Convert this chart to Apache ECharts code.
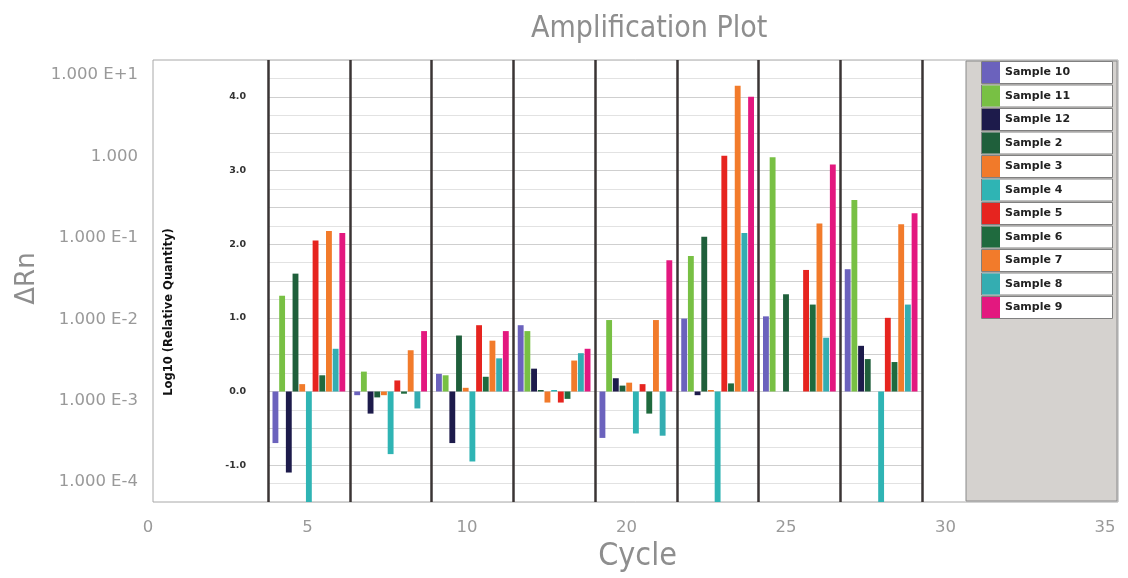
<!DOCTYPE html>
<html>
<head>
<meta charset="utf-8">
<script src="https://cdn.jsdelivr.net/npm/echarts@6/dist/echarts.min.js"></script>
<style>html,body{margin:0;padding:0;background:#fff;}#c{width:1128px;height:578px;}</style>
</head>
<body>
<div id="c"></div>
<script>
// Outer amplification-plot frame labels
const cycleLabels = ['0', '5', '10', '20', '25', '30', '35'];
const deltaRnLabels = ['1.000 E-4', '1.000 E-3', '1.000 E-2', '1.000 E-1', '1.000', '1.000 E+1'];

// Inset bar chart: 8 groups, 11 samples each (Log10 relative quantity)
const groups = ['1', '2', '3', '4', '5', '6', '7', '8'];
const sampleNames = ['Sample 10', 'Sample 11', 'Sample 12', 'Sample 2', 'Sample 3', 'Sample 4',
                     'Sample 5', 'Sample 6', 'Sample 7', 'Sample 8', 'Sample 9'];
const sample10 = [-0.70, -0.05, 0.24, 0.90, -0.63, 0.99, 1.02, 1.66];
const sample11 = [1.30, 0.27, 0.22, 0.82, 0.97, 1.84, 3.18, 2.60];
const sample12 = [-1.10, -0.30, -0.70, 0.31, 0.18, -0.05, 0.00, 0.62];
const sample2  = [1.60, -0.08, 0.76, 0.02, 0.08, 2.10, 1.32, 0.44];
const sample3  = [0.10, -0.05, 0.05, -0.15, 0.12, 0.02, 0.00, 0.00];
const sample4  = [-1.60, -0.85, -0.95, 0.02, -0.57, -1.60, 0.00, -1.60];
const sample5  = [2.05, 0.15, 0.90, -0.15, 0.10, 3.20, 1.65, 1.00];
const sample6  = [0.22, -0.03, 0.20, -0.10, -0.30, 0.11, 1.18, 0.40];
const sample7  = [2.18, 0.56, 0.69, 0.42, 0.97, 4.15, 2.28, 2.27];
const sample8  = [0.58, -0.23, 0.45, 0.52, -0.60, 2.15, 0.73, 1.18];
const sample9  = [2.15, 0.82, 0.82, 0.58, 1.78, 4.00, 3.08, 2.42];
const sampleValues = [sample10, sample11, sample12, sample2, sample3, sample4,
                      sample5, sample6, sample7, sample8, sample9];
const sampleColors = ['#6b62bd', '#78c044', '#1d1b4b', '#1f5f3b', '#f17a2a', '#2fb4b4',
                      '#e6241f', '#1f6a3e', '#f27b2b', '#34adb1', '#e3187f'];

const chart = echarts.init(document.getElementById('c'), null, {renderer: 'canvas'});

const LEG_TOP = 62, LEG_STEP = 23.5;

const series = sampleNames.map((name, i) => ({
  name: name,
  type: 'bar',
  xAxisIndex: 2,
  yAxisIndex: 2,
  data: sampleValues[i],
  itemStyle: {color: sampleColors[i]},
  barGap: '14%',
  barCategoryGap: '11%',
  clip: true
}));

const legends = sampleNames.map((name, i) => ({
  data: [name],
  orient: 'vertical',
  left: 982,
  top: LEG_TOP + i * LEG_STEP,
  icon: 'rect',
  itemWidth: 18,
  itemHeight: 21,
  itemGap: 0,
  padding: [0, 0, 0, 0],
  selectedMode: false,
  z: 6,
  textStyle: {fontSize: 11, fontWeight: 'bold', color: '#222', fontFamily: 'DejaVu Sans'}
}));

// white bordered boxes behind each legend row
const legendBoxes = sampleNames.map((name, i) => ({
  type: 'rect', z: 2,
  shape: {x: 981.5, y: LEG_TOP + i * LEG_STEP - 0.5, width: 131, height: 22},
  style: {fill: '#ffffff', stroke: '#808080', lineWidth: 1}
}));

const option = {
  animation: false,
  title: {
    text: 'Amplification Plot',
    left: 526, top: 9,
    textStyle: {fontSize: 30, fontWeight: 'normal', color: '#8e8e8e',
                fontFamily: 'DejaVu Sans Condensed, Liberation Sans Narrow, Liberation Sans'}
  },
  legend: legends,
  grid: [
    {left: 153, right: 10, top: 60, bottom: 76, show: true, borderColor: '#a8a8a8', borderWidth: 1, backgroundColor: '#fff'},
    {left: 148, right: 23, top: 75, bottom: 90},
    {left: 268, right: 206, top: 60, bottom: 76}
  ],
  graphic: [
    {type: 'rect', z: 1, shape: {x: 966, y: 61, width: 151, height: 440},
     style: {fill: '#d5d2cf', stroke: '#8a8a8a', lineWidth: 1}},
    {type: 'text', z: 3, x: 169, y: 312, rotation: Math.PI / 2,
     style: {text: 'Log10 (Relative Quantity)', fontSize: 11.5, fontWeight: 'bold', fill: '#111',
             align: 'center', verticalAlign: 'middle', fontFamily: 'DejaVu Sans'}}
  ].concat(legendBoxes),
  xAxis: [
    {gridIndex: 0, type: 'value', show: false, min: 0, max: 1},
    {gridIndex: 1, type: 'category', data: cycleLabels, boundaryGap: false,
     axisLine: {show: false}, axisTick: {show: false}, splitLine: {show: false},
     axisLabel: {margin: 37, fontSize: 16.5, color: '#999', fontFamily: 'DejaVu Sans'},
     name: 'Cycle', nameLocation: 'middle', nameGap: 52,
     nameTextStyle: {fontSize: 32, color: '#8e8e8e', padding: [0, 0, 0, 22],
                     fontFamily: 'DejaVu Sans Condensed, Liberation Sans Narrow, Liberation Sans'}},
    {gridIndex: 2, type: 'category', data: groups, boundaryGap: true,
     axisLine: {show: false}, axisTick: {show: false}, axisLabel: {show: false},
     splitLine: {show: true, lineStyle: {color: '#3a3434', width: 2.5}}}
  ],
  yAxis: [
    {gridIndex: 0, type: 'value', show: false, min: 0, max: 1},
    {gridIndex: 1, type: 'category', data: deltaRnLabels, boundaryGap: false,
     axisLine: {show: false}, axisTick: {show: false}, splitLine: {show: false},
     axisLabel: {margin: 10, fontSize: 16.5, color: '#999', fontFamily: 'DejaVu Sans'},
     name: 'ΔRn', nameLocation: 'middle', nameGap: 102,
     nameTextStyle: {fontSize: 26, color: '#8e8e8e', fontFamily: 'DejaVu Sans'}},
    {gridIndex: 2, type: 'value', min: -1.5, max: 4.5, interval: 0.5,
     axisLine: {show: false}, axisTick: {show: false},
     axisLabel: {margin: 22, fontSize: 9.5, fontWeight: 'bold', color: '#333', fontFamily: 'DejaVu Sans',
                 formatter: v => Math.abs(v - Math.round(v)) < 1e-6 ? v.toFixed(1) : ''},
     splitLine: {show: true, lineStyle: {color: '#cfcfcf', width: 1}},
     minorTick: {show: false, splitNumber: 2},
     minorSplitLine: {show: true, lineStyle: {color: '#e2e2e2', width: 1}}}
  ],
  series: series
};

chart.setOption(option);
</script>
</body>
</html>
